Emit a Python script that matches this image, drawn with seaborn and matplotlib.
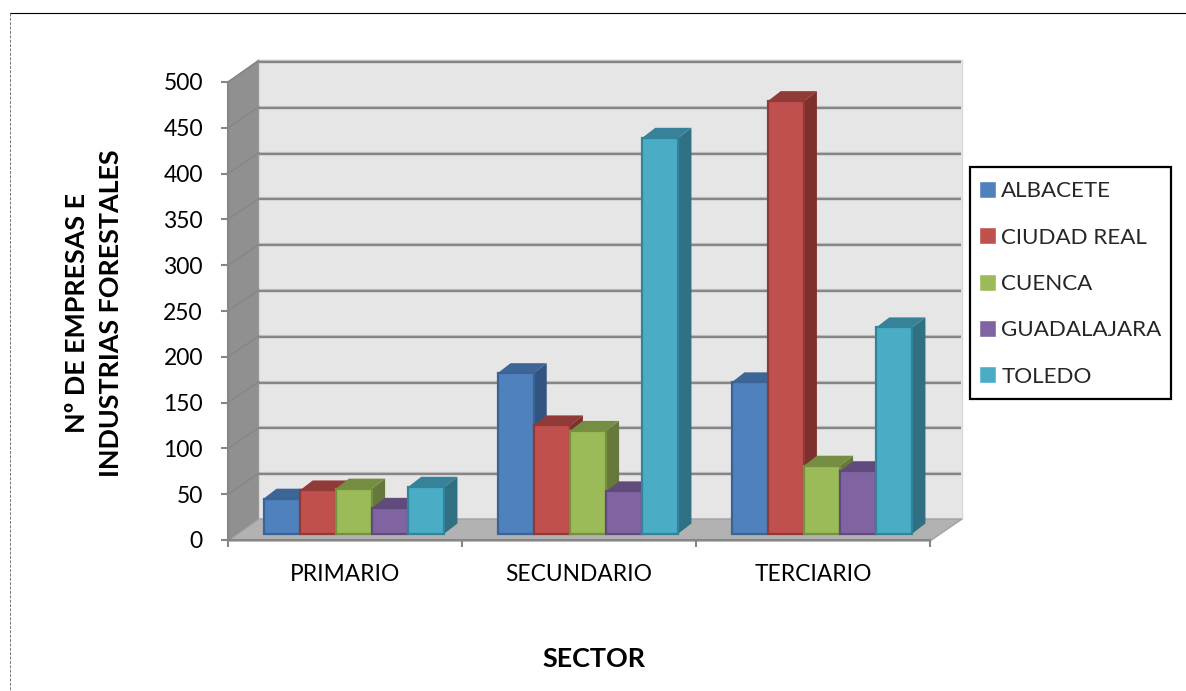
import pandas as pd
import matplotlib
matplotlib.use('Agg')
import matplotlib.pyplot as plt
from matplotlib.lines import Line2D
from matplotlib.patches import Polygon, Rectangle
from matplotlib.transforms import Affine2D
import seaborn as sns

# values
sectors = ['PRIMARIO', 'SECUNDARIO', 'TERCIARIO']
provinces = ['ALBACETE', 'CIUDAD REAL', 'CUENCA', 'GUADALAJARA', 'TOLEDO']
albacete = [38, 175, 165]
ciudad_real = [47, 118, 472]
cuenca = [49, 112, 74]
guadalajara = [28, 46, 68]
toledo = [51, 432, 225]
y_ticks = [0, 50, 100, 150, 200, 250, 300, 350, 400, 450, 500]

colors = ['#4f81bd', '#c0504d', '#9bbb59', '#8064a2', '#4bacc6']
edges = ['#3a6396', '#8e3a37', '#76903f', '#5f4a7c', '#31849b']
tops = ['#3d6596', '#923a37', '#768e44', '#614a7c', '#388299']
sides = ['#325481', '#7e302d', '#66793a', '#534069', '#2f7183']

W, H = 1186, 691
AXIS_COLOR = '#868686'


def main():
    sns.set_theme(style='white')
    plt.rcParams['font.family'] = ['Lato', 'DejaVu Sans']

    df = pd.DataFrame({
        'sector': sectors * 5,
        'province': [p for p in provinces for _ in sectors],
        'count': albacete + ciudad_real + cuenca + guadalajara + toledo,
    })

    fig = plt.figure(figsize=(W / 100, H / 100), dpi=100)
    ax = fig.add_axes([228 / W, (H - 540) / H, 702 / W, 458 / H])
    ax.set_facecolor('none')

    sns.barplot(data=df, x='sector', y='count', hue='province', order=sectors,
                hue_order=provinces, palette=colors, width=0.773, gap=0,
                saturation=1, errorbar=None, ax=ax)
    ax.set_xlim(-0.5, 2.5)
    ax.set_ylim(0, 500)

    # pixels counted from the top left corner
    px = Affine2D().scale(1, -1).translate(0, H)
    # back wall sits behind the front plane, bars half way
    wall_shift = ax.transData + Affine2D().translate(31, 21)
    bar_shift = ax.transData + Affine2D().translate(9, 6.5)

    # walls and floor
    ax.add_patch(Polygon([(228, 82), (259, 60), (259, 519), (228, 540)], fc='#909090',
                         ec='#868686', lw=1, transform=px, clip_on=False, zorder=0.1))
    ax.add_patch(Polygon([(259, 60), (962, 60), (962, 519), (259, 519)], fc='#e6e6e6',
                         ec='#d8d8d8', lw=1, transform=px, clip_on=False, zorder=0.1))
    ax.add_patch(Polygon([(228, 541), (930, 541), (962, 519), (259, 519)], fc='#b2b2b2',
                         ec='#a2a2a2', lw=1, transform=px, clip_on=False, zorder=0.2))

    # gridlines on the back wall, diagonals on the side wall
    for v in y_ticks[1:]:
        ax.plot([-0.5, 2.5], [v, v], color='#c8c8c8', lw=1.6, transform=wall_shift,
                clip_on=False, zorder=0.3, solid_capstyle='butt')
        ax.plot([-0.5, 2.5], [v, v], color=AXIS_COLOR, lw=1.7, transform=wall_shift + Affine2D().translate(0, -1),
                clip_on=False, zorder=0.4, solid_capstyle='butt')
        y_px = ax.transData.transform((0, v))[1]
        ax.add_line(Line2D([228, 259], [y_px, y_px + 21], color='#868686', lw=1,
                           transform=Affine2D(), clip_on=False, zorder=0.5))

    # 3d look: every bar gets a top and a side face from its own rectangle
    bars = []
    for i, cont in enumerate(ax.containers):
        for patch in cont:
            patch.set_edgecolor(edges[i])
            patch.set_linewidth(1.6)
            patch.set_transform(bar_shift)
            patch.set_clip_on(False)
            bars.append((patch.get_x(), patch, i))
    bars.sort(key=lambda b: b[0])

    to_px = bar_shift.transform
    for n, (_, patch, i) in enumerate(bars):
        x0, y0 = to_px((patch.get_x(), 0))
        x1, y1 = to_px((patch.get_x() + patch.get_width(), patch.get_height()))
        dx, dy = 13, 10
        ax.add_patch(Polygon([(x1, y0), (x1 + dx, y0 + dy), (x1 + dx, y1 + dy), (x1, y1)],
                             fc=sides[i], ec='none', transform=Affine2D(),
                             clip_on=False, zorder=2 + n * 0.1))
        ax.add_patch(Polygon([(x0, y1), (x0 + dx, y1 + dy), (x1 + dx, y1 + dy), (x1, y1)],
                             fc=tops[i], ec='none', transform=Affine2D(),
                             clip_on=False, zorder=2 + n * 0.1))
        patch.set_zorder(2.05 + n * 0.1)

    # axes
    sns.despine(ax=ax, top=True, right=True)
    for side in ['left', 'bottom']:
        ax.spines[side].set_color(AXIS_COLOR)
        ax.spines[side].set_linewidth(1.5)
        ax.spines[side].set_zorder(1.5)
    ax.set_yticks(y_ticks)
    ax.tick_params(axis='y', left=True, length=5, width=1.5, color=AXIS_COLOR,
                   labelsize=16.5, labelcolor='black', pad=13)
    ax.set_xticks([-0.5, 0.5, 1.5, 2.5], minor=True)
    ax.tick_params(axis='x', which='minor', bottom=True, length=5, width=1.5, color=AXIS_COLOR)
    ax.tick_params(axis='x', which='major', bottom=False, labelsize=16.4, labelcolor='black', pad=11)

    ax.set_xlabel('SECTOR', fontsize=19.4, fontweight='bold', color='black', va='center')
    ax.xaxis.set_label_coords((594 - 228) / 702, -(659 - 540) / 458)
    ax.set_ylabel('Nº DE EMPRESAS E\nINDUSTRIAS FORESTALES', fontsize=19.4, fontweight='bold',
                  color='black', va='center', ha='center', linespacing=1.5)
    ax.yaxis.set_label_coords((94 - 228) / 702, (540 - 313) / 458)

    # legend: box drawn on its own so the rows can keep their own padding
    fig.add_artist(Rectangle((970 / W, 1 - 399 / H), 201 / W, 232 / H, fc='white', ec='black',
                             lw=1.6, transform=fig.transFigure, zorder=-1))
    handles, labels = ax.get_legend_handles_labels()
    ax.legend(handles, labels, loc='upper left', bbox_to_anchor=(979 / W, 1 - 181 / H),
              bbox_transform=fig.transFigure, borderaxespad=0, frameon=False,
              fontsize=16.1, labelspacing=1.17, handlelength=0.78, handleheight=0.78,
              handletextpad=0.22, borderpad=0, title=None)

    # outer frame of the chart, only top and left are left in the crop
    fig.add_artist(Line2D([9.5 / W, 1], [1 - 12.5 / H, 1 - 12.5 / H], color='black', lw=0.8))
    fig.add_artist(Line2D([9.5 / W, 9.5 / W], [1 - 12.5 / H, 0], color='#777777', lw=0.7, ls=(0, (3, 1.5))))

    fig.savefig('out.png', dpi=100)


if __name__ == "__main__":
    main()
